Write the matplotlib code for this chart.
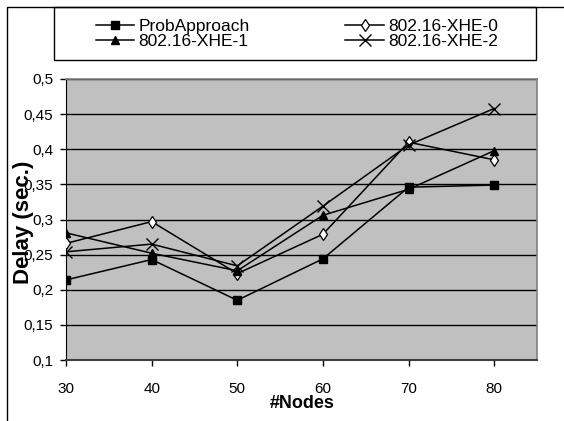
import matplotlib
matplotlib.use("Agg")
import matplotlib.pyplot as plt
from matplotlib.lines import Line2D
from matplotlib.patches import Rectangle
from matplotlib.ticker import FuncFormatter

plt.rcParams["font.family"] = ["Liberation Sans", "DejaVu Sans"]

# Data
nodes = [30, 40, 50, 60, 70, 80]
prob_approach = [0.214, 0.243, 0.185, 0.244, 0.346, 0.349]
xhe_0 = [0.266, 0.297, 0.223, 0.279, 0.410, 0.385]
xhe_1 = [0.281, 0.252, 0.227, 0.306, 0.343, 0.398]
xhe_2 = [0.254, 0.265, 0.234, 0.319, 0.406, 0.458]
y_ticks = [0.1, 0.15, 0.2, 0.25, 0.3, 0.35, 0.4, 0.45, 0.5]

W, H = 564, 421
fig = plt.figure(figsize=(W / 100, H / 100), dpi=100)
ax = fig.add_axes([66 / W, 1 - 360 / H, (537 - 66) / W, (360 - 79) / H])
ax.set_facecolor("#c0c0c0")

lw = 1.1
l_prob, = ax.plot(nodes, prob_approach, color="black", lw=lw, marker="s", ms=6, zorder=3)
l_x0, = ax.plot(nodes, xhe_0, color="black", lw=lw, marker="d", ms=6.5,
                mfc="white", mec="black", mew=0.9, zorder=3)
l_x1, = ax.plot(nodes, xhe_1, color="black", lw=lw, marker="^", ms=6, zorder=3)
l_x2, = ax.plot(nodes, xhe_2, color="black", lw=lw, marker="x", ms=8, mew=1.0, zorder=3)

ax.set_xlim(30, 85)
ax.set_ylim(0.1, 0.5)
ax.set_xticks(nodes)
ax.set_yticks(y_ticks)
ax.yaxis.set_major_formatter(FuncFormatter(lambda v, p: f"{v:g}".replace(".", ",")))

ax.grid(axis="y", color="black", lw=1)
ax.set_axisbelow(True)
ax.tick_params(axis="x", direction="out", length=4, width=1, pad=12, labelsize=11)
ax.tick_params(axis="y", direction="out", length=4, width=1, pad=5, labelsize=11)

for side in ["top", "right"]:
    ax.spines[side].set_color("#808080")
    ax.spines[side].set_linewidth(1.2)
ax.spines["left"].set_color("black")
ax.spines["bottom"].set_color("#404040")
ax.spines["bottom"].set_linewidth(1.5)

fig.text(302 / W, 1 - 404 / H, "#Nodes", ha="center", va="center",
         fontsize=13, fontweight="bold")
fig.text(24 / W, 1 - 222 / H, "Delay (sec.)", ha="center", va="center", rotation=90,
         fontsize=16, fontweight="bold")

# outer chart frame (left and top edges visible)
fig.add_artist(Line2D([7 / W, 7 / W, 1], [0, 1 - 7 / H, 1 - 7 / H],
                      transform=fig.transFigure, color="black", lw=1))

# legend box
fig.add_artist(Rectangle((54 / W, 1 - 60 / H), (536 - 54) / W, (60 - 7) / H,
                         transform=fig.transFigure, fill=False, ec="black", lw=1))
fig.legend([l_prob, l_x1, l_x0, l_x2],
           ["ProbApproach", "802.16-XHE-1", "802.16-XHE-0", "802.16-XHE-2"],
           ncol=2, frameon=False, loc="center", bbox_to_anchor=(297 / W, 1 - 34 / H),
           fontsize=12.5, handlelength=2.2, handletextpad=0.25, columnspacing=5.5,
           labelspacing=0.0, borderpad=0)

fig.savefig("out.png", dpi=100)
